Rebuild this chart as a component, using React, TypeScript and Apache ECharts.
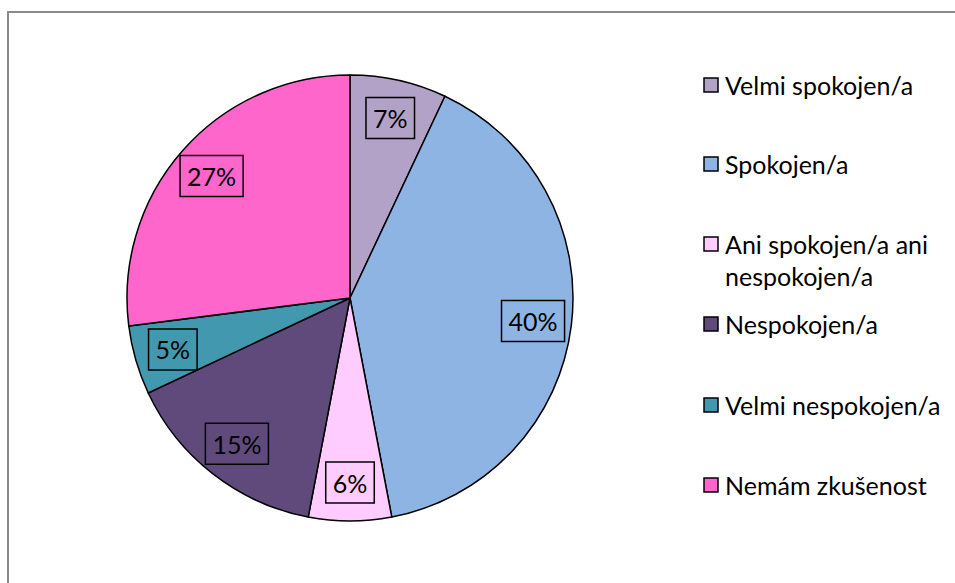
import React, { useEffect, useRef } from "react";
import * as echarts from "echarts";

const categories = [
  "Velmi spokojen/a",
  "Spokojen/a",
  "Ani spokojen/a ani\nnespokojen/a",
  "Nespokojen/a",
  "Velmi nespokojen/a",
  "Nemám zkušenost",
];
const values = [7, 40, 6, 15, 5, 27];
const colors = ["#B3A2C7", "#8EB4E3", "#FFCCFF", "#604A7B", "#4198AF", "#FF66CC"];
const legendCentersY = [85, 164, 244, 324, 405, 485];

const FONT = "Lato, 'Noto Sans', sans-serif";

export default function App() {
  const ref = useRef<HTMLDivElement>(null);
  useEffect(() => {
    if (!ref.current) return;
    const chart = echarts.init(ref.current, null, { renderer: "svg" });
    const data = categories.map((c, i) => ({
      name: c,
      value: values[i],
      itemStyle: { color: colors[i] },
    }));
    const legendGraphics: any[] = [];
    categories.forEach((c, i) => {
      const cy = legendCentersY[i];
      legendGraphics.push({
        type: "rect",
        shape: { x: 704, y: cy - 7, width: 14, height: 14 },
        style: { fill: colors[i], stroke: "#000", lineWidth: 1.5 },
      });
      legendGraphics.push({
        type: "text",
        x: 725,
        y: cy - 16,
        style: {
          text: c,
          font: `25px ${FONT}`,
          fill: "#000",
          lineHeight: 32,
          verticalAlign: "top",
        },
      });
    });
    chart.setOption({
      animation: false,
      backgroundColor: "#fff",
      graphic: [
        {
          type: "line",
          shape: { x1: 8, y1: 12, x2: 955, y2: 12 },
          style: { stroke: "#8a8a8a", lineWidth: 2 },
        },
        {
          type: "line",
          shape: { x1: 8, y1: 11, x2: 8, y2: 583 },
          style: { stroke: "#8a8a8a", lineWidth: 2 },
        },
        ...legendGraphics,
      ],
      series: [
        {
          type: "pie",
          center: [350, 298],
          radius: [0, 223],
          startAngle: 90,
          clockwise: true,
          silent: true,
          data,
          label: { show: false },
          labelLine: { show: false },
          itemStyle: { borderColor: "#000", borderWidth: 1.5 },
        },
        {
          type: "pie",
          center: [350, 298],
          radius: [140, 223],
          startAngle: 90,
          clockwise: true,
          silent: true,
          data: data.map((d) => ({ ...d, itemStyle: { color: "transparent" } })),
          itemStyle: { borderWidth: 0 },
          label: {
            show: true,
            position: "inside",
            formatter: (p: any) => `${p.value}%`,
            fontFamily: FONT,
            fontSize: 25,
            color: "#000",
            borderColor: "#000",
            borderWidth: 1.5,
            padding: [9, 7, 7, 7],
          },
          labelLine: { show: false },
        },
      ],
    });
    return () => chart.dispose();
  }, []);
  return (
    <div
      ref={ref}
      style={{ position: "fixed", left: 0, top: 0, width: 955, height: 583 }}
    />
  );
}
